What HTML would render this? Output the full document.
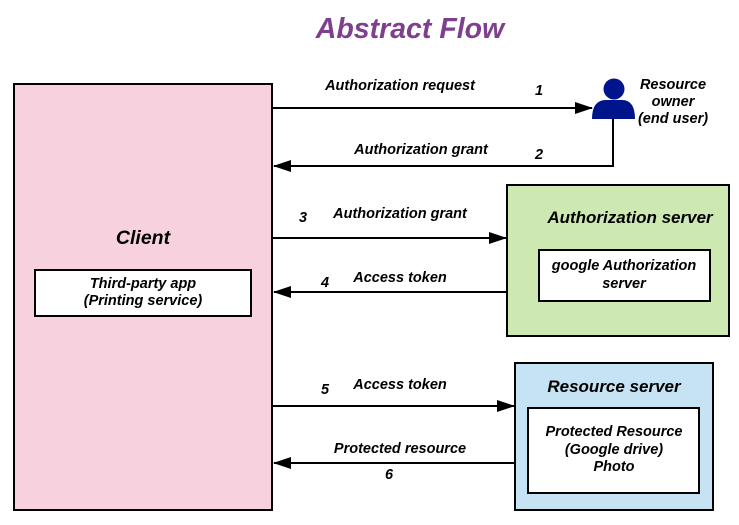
<!DOCTYPE html>
<html><head><style>
html,body{margin:0;padding:0;background:#fff;width:739px;height:525px;overflow:hidden}
svg text{font-family:"Liberation Sans",sans-serif;font-style:italic;font-weight:bold}
</style></head><body>
<svg width="739" height="525" viewBox="0 0 739 525" xmlns="http://www.w3.org/2000/svg">
<defs>
<marker id="a" markerWidth="18" markerHeight="12" refX="17" refY="6" orient="auto" markerUnits="userSpaceOnUse">
<path d="M0,0 L18,6 L0,12 Z" fill="#000"/></marker>
</defs>
<text x="410" y="38" font-size="28.5" fill="#7f3f8f" text-anchor="middle">Abstract Flow</text>

<rect x="14" y="84" width="258" height="426" fill="#f7d1de" stroke="#000" stroke-width="2"/>
<text x="143" y="244" font-size="19.5" text-anchor="middle">Client</text>
<rect x="35" y="270" width="216" height="46" fill="#fff" stroke="#000" stroke-width="2"/>
<text x="143" y="288" font-size="14.5" text-anchor="middle">Third-party app</text>
<text x="143" y="305" font-size="14.5" text-anchor="middle">(Printing service)</text>

<rect x="507" y="185" width="222" height="151" fill="#cde8b0" stroke="#000" stroke-width="2"/>
<text x="630" y="223" font-size="17" text-anchor="middle">Authorization server</text>
<rect x="539" y="250" width="171" height="51" fill="#fff" stroke="#000" stroke-width="2"/>
<text x="624" y="270" font-size="14.5" text-anchor="middle">google Authorization</text>
<text x="624" y="288" font-size="14.5" text-anchor="middle">server</text>

<rect x="515" y="363" width="198" height="147" fill="#c5e3f3" stroke="#000" stroke-width="2"/>
<text x="614" y="392" font-size="17" text-anchor="middle">Resource server</text>
<rect x="528" y="408" width="171" height="85" fill="#fff" stroke="#000" stroke-width="2"/>
<text x="614" y="436" font-size="14.5" text-anchor="middle">Protected Resource</text>
<text x="614" y="454" font-size="14.5" text-anchor="middle">(Google drive)</text>
<text x="614" y="471" font-size="14.5" text-anchor="middle">Photo</text>

<!-- person -->
<circle cx="614" cy="89" r="10.5" fill="#00148c"/>
<path d="M592,119 Q592,100 606,100 L622,100 Q635,100 635,119 Z" fill="#00148c"/>
<text x="673" y="89" font-size="14.5" text-anchor="middle">Resource</text>
<text x="673" y="106" font-size="14.5" text-anchor="middle">owner</text>
<text x="673" y="123" font-size="14.5" text-anchor="middle">(end user)</text>

<g stroke="#000" stroke-width="2" fill="none">
<line x1="272" y1="108" x2="592" y2="108" marker-end="url(#a)"/>
<polyline points="613,119 613,166 274,166" marker-end="url(#a)"/>
<line x1="272" y1="238" x2="506" y2="238" marker-end="url(#a)"/>
<line x1="506" y1="292" x2="274" y2="292" marker-end="url(#a)"/>
<line x1="272" y1="406" x2="514" y2="406" marker-end="url(#a)"/>
<line x1="514" y1="463" x2="274" y2="463" marker-end="url(#a)"/>
</g>

<g font-size="14.5">
<text x="400" y="90" text-anchor="middle">Authorization request</text>
<text x="539" y="95" text-anchor="middle">1</text>
<text x="421" y="154" text-anchor="middle">Authorization grant</text>
<text x="539" y="159" text-anchor="middle">2</text>
<text x="303" y="222" text-anchor="middle">3</text>
<text x="400" y="218" text-anchor="middle">Authorization grant</text>
<text x="325" y="287" text-anchor="middle">4</text>
<text x="400" y="282" text-anchor="middle">Access token</text>
<text x="325" y="394" text-anchor="middle">5</text>
<text x="400" y="389" text-anchor="middle">Access token</text>
<text x="400" y="453" text-anchor="middle">Protected resource</text>
<text x="389" y="479" text-anchor="middle">6</text>
</g>
</svg>
</body></html>
